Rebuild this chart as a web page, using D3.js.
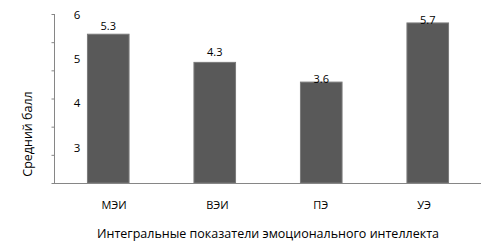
<!DOCTYPE html>
<html><head><meta charset="utf-8">
<script src="https://cdn.jsdelivr.net/npm/d3@7"></script>
<style>body{margin:0;background:#fff}svg{display:block}text{font-family:"Open Sans",sans-serif;fill:#000}</style>
</head><body><svg id="c" width="490" height="249"></svg>
<script>
const categories = ["МЭИ", "ВЭИ", "ПЭ", "УЭ"];
const values = [5.3, 4.3, 3.6, 5.7];
const valueLabels = ["5.3", "4.3", "3.6", "5.7"];
const tickValues = [0, 1, 2, 3, 4, 5, 6];
const tickLabels = ["6", "5", "4", "3"];
const xTitle = "Интегральные показатели эмоционального интеллекта";
const yTitle = "Средний балл";

const svg = d3.select("#c");
const axisColor = "#868686";
const x = d3.scaleBand().domain(categories).range([55, 481]).paddingInner(0.6).paddingOuter(0.3);
const y = d3.scaleLinear().domain([0, 6]).range([183, 14]);

// bars
svg.selectAll("rect.bar").data(values).join("rect")
  .attr("class", "bar")
  .attr("x", (d, i) => x(categories[i]) + 0.5)
  .attr("y", d => y(d) + 0.5)
  .attr("width", x.bandwidth() - 1)
  .attr("height", d => y(0) - y(d) - 0.5)
  .attr("fill", "#595959")
  .attr("stroke", "#7a7a7a")
  .attr("stroke-width", 1);

// y axis
const yAxis = d3.axisLeft(y).tickValues(tickValues).tickSize(3).tickFormat("");
const gy = svg.append("g").attr("transform", "translate(54.5,0)").call(yAxis);
gy.select(".domain").attr("stroke", axisColor).attr("d", `M0,${y(6)}V${y(0)}`);
gy.selectAll(".tick line").attr("stroke", axisColor);

// x axis line
svg.append("line").attr("x1", 54).attr("x2", 481).attr("y1", y(0) + 0.5).attr("y2", y(0) + 0.5)
  .attr("stroke", axisColor);

// y tick labels (placed as in the original, inside the plot)
const ly = d3.scalePoint().domain(tickLabels).range([14, 147]);
svg.selectAll("text.yl").data(tickLabels).join("text")
  .attr("class", "yl").attr("x", 77).attr("y", d => ly(d))
  .attr("text-anchor", "middle").attr("dominant-baseline", "central")
  .style("font-size", "11.5px").text(d => d);

// value labels
const lift = [8, 10, 3, 3];
svg.selectAll("text.vl").data(values).join("text")
  .attr("class", "vl")
  .attr("x", (d, i) => x(categories[i]) + x.bandwidth() / 2)
  .attr("y", (d, i) => y(d) - lift[i])
  .attr("text-anchor", "middle").attr("dominant-baseline", "central")
  .style("font-size", "11px").text((d, i) => valueLabels[i]);

// category labels
const lx = d3.scalePoint().domain(categories).range([114, 424]);
svg.selectAll("text.cl").data(categories).join("text")
  .attr("class", "cl").attr("x", d => lx(d)).attr("y", 204)
  .attr("text-anchor", "middle").attr("dominant-baseline", "central")
  .style("font-size", "11px").text(d => d);

// titles
svg.append("text").attr("x", 268).attr("y", 233)
  .attr("text-anchor", "middle").attr("dominant-baseline", "central")
  .style("font-size", "12.5px").text(xTitle);
svg.append("text").attr("transform", "translate(27,134) rotate(-90)")
  .attr("text-anchor", "middle").attr("dominant-baseline", "central")
  .style("font-size", "12.5px").text(yTitle);
</script></body></html>
